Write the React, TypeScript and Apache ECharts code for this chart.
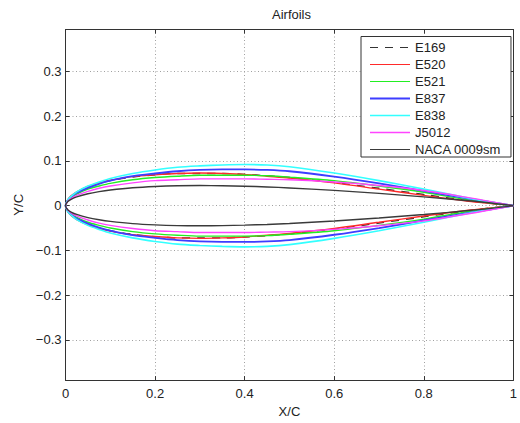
import React, { useEffect, useRef } from 'react';
import * as echarts from 'echarts';

const X_STATIONS = [0, 0.005, 0.0125, 0.025, 0.05, 0.075, 0.1, 0.15, 0.2, 0.25, 0.3, 0.35, 0.4, 0.45, 0.5, 0.6, 0.7, 0.8, 0.9, 0.95, 1];

const AIRFOIL_NAMES = ['E169', 'E520', 'E521', 'E837', 'E838', 'J5012', 'NACA 0009sm'];

const E169_UPPER = [0, 0.012, 0.021, 0.030, 0.042, 0.050, 0.056, 0.064, 0.069, 0.072, 0.072, 0.072, 0.070, 0.067, 0.063, 0.052, 0.039, 0.025, 0.011, 0.005, 0];
const E169_LOWER = [0, -0.012, -0.021, -0.030, -0.042, -0.050, -0.056, -0.064, -0.069, -0.072, -0.072, -0.072, -0.070, -0.067, -0.063, -0.052, -0.039, -0.025, -0.011, -0.005, 0];

const E520_UPPER = [0, 0.013, 0.022, 0.031, 0.043, 0.051, 0.057, 0.065, 0.069, 0.072, 0.073, 0.072, 0.070, 0.066, 0.062, 0.051, 0.037, 0.023, 0.010, 0.005, 0];
const E520_LOWER = [0, -0.013, -0.022, -0.031, -0.043, -0.051, -0.057, -0.065, -0.069, -0.072, -0.073, -0.072, -0.070, -0.066, -0.062, -0.051, -0.037, -0.023, -0.010, -0.005, 0];

const E521_UPPER = [0, 0.011, 0.018, 0.026, 0.037, 0.044, 0.050, 0.058, 0.063, 0.066, 0.068, 0.068, 0.068, 0.067, 0.064, 0.056, 0.044, 0.030, 0.013, 0.006, 0];
const E521_LOWER = [0, -0.011, -0.018, -0.026, -0.037, -0.044, -0.050, -0.058, -0.063, -0.066, -0.068, -0.068, -0.068, -0.067, -0.064, -0.056, -0.044, -0.030, -0.013, -0.006, 0];

const E837_UPPER = [0, 0.012, 0.020, 0.029, 0.040, 0.049, 0.056, 0.066, 0.072, 0.077, 0.080, 0.081, 0.081, 0.080, 0.077, 0.065, 0.050, 0.033, 0.016, 0.008, 0];
const E837_LOWER = [0, -0.012, -0.020, -0.029, -0.040, -0.049, -0.056, -0.066, -0.072, -0.077, -0.080, -0.081, -0.081, -0.080, -0.077, -0.065, -0.050, -0.033, -0.016, -0.008, 0];

const E838_UPPER = [0, 0.013, 0.021, 0.031, 0.044, 0.053, 0.061, 0.072, 0.080, 0.086, 0.089, 0.091, 0.092, 0.091, 0.087, 0.073, 0.056, 0.037, 0.017, 0.008, 0];
const E838_LOWER = [0, -0.013, -0.021, -0.031, -0.044, -0.053, -0.061, -0.072, -0.080, -0.086, -0.089, -0.091, -0.092, -0.091, -0.087, -0.073, -0.056, -0.037, -0.017, -0.008, 0];

const J5012_UPPER = [0, 0.010, 0.016, 0.023, 0.032, 0.039, 0.044, 0.051, 0.056, 0.058, 0.060, 0.060, 0.060, 0.059, 0.058, 0.053, 0.045, 0.034, 0.018, 0.009, 0];
const J5012_LOWER = [0, -0.010, -0.016, -0.023, -0.032, -0.039, -0.044, -0.051, -0.056, -0.058, -0.060, -0.060, -0.060, -0.059, -0.058, -0.053, -0.045, -0.034, -0.018, -0.009, 0];

const NACA_UPPER = [0, 0.0092, 0.0142, 0.0196, 0.0267, 0.0315, 0.0351, 0.0401, 0.0430, 0.0446, 0.0450, 0.0446, 0.0435, 0.0419, 0.0397, 0.0342, 0.0275, 0.0197, 0.0109, 0.0060, 0];
const NACA_LOWER = [0, -0.0092, -0.0142, -0.0196, -0.0267, -0.0315, -0.0351, -0.0401, -0.0430, -0.0446, -0.0450, -0.0446, -0.0435, -0.0419, -0.0397, -0.0342, -0.0275, -0.0197, -0.0109, -0.0060, 0];

const UPPERS = [E169_UPPER, E520_UPPER, E521_UPPER, E837_UPPER, E838_UPPER, J5012_UPPER, NACA_UPPER];
const LOWERS = [E169_LOWER, E520_LOWER, E521_LOWER, E837_LOWER, E838_LOWER, J5012_LOWER, NACA_LOWER];

const COLORS = ['#333333', '#ff2a2a', '#22ee22', '#3d3dff', '#33ffff', '#ff44ff', '#3a3a3a'];
const DASHES: any[] = [[8, 7], 'solid', 'solid', 'solid', 'solid', 'solid', 'solid'];
const WIDTHS = [1.3, 1.4, 1.4, 1.8, 1.6, 1.4, 1.4];
const LEGEND_WIDTHS = [1.2, 1, 1, 2, 1.6, 1.6, 1.2];

const FONT = '"Liberation Sans", Arial, Helvetica, sans-serif';

function loop(upper: number[], lower: number[]) {
  const pts: number[][] = [];
  for (let i = X_STATIONS.length - 1; i >= 0; i--) pts.push([X_STATIONS[i], upper[i]]);
  for (let i = 1; i < X_STATIONS.length; i++) pts.push([X_STATIONS[i], lower[i]]);
  return pts;
}

const fmtY = (v: number) => {
  if (Math.abs(v) < 1e-9) return '0';
  return (v < 0 ? '\u2212' : '') + Math.abs(v).toFixed(1);
};

export default function App() {
  const ref = useRef<HTMLDivElement>(null);
  useEffect(() => {
    if (!ref.current) return;
    const chart = echarts.init(ref.current, null, { renderer: 'svg' });
    const axisLineStyle = { color: '#333', width: 1 };
    const splitStyle = { show: true, lineStyle: { color: '#a0a0a0', width: 1, type: [1, 2.5] as any } };
    chart.setOption({
      animation: false,
      backgroundColor: '#ffffff',
      textStyle: { fontFamily: FONT },
      grid: { left: 65.5, right: 3, top: 29.5, bottom: 38, containLabel: false },
      graphic: [
        {
          type: 'text',
          x: 291.5,
          y: 14.5,
          style: { text: 'Airfoils', font: '13px ' + FONT, fill: '#222', textAlign: 'center', textVerticalAlign: 'middle' },
        },
      ],
      legend: {
        orient: 'vertical',
        left: 361,
        top: 36.5,
        padding: [4.5, 10, 1, 8],
        itemWidth: 40,
        itemHeight: 13,
        itemGap: 4,
        backgroundColor: '#ffffff',
        borderColor: '#333',
        borderWidth: 1,
        itemStyle: { opacity: 0 },
        textStyle: { fontSize: 13, color: '#222', fontFamily: FONT },
        data: AIRFOIL_NAMES.map((name, i) => ({
          name,
          lineStyle: { width: LEGEND_WIDTHS[i], color: COLORS[i], type: DASHES[i] },
        })),
      },
      xAxis: [
        {
          type: 'value',
          min: 0,
          max: 1,
          interval: 0.2,
          name: 'X/C',
          nameLocation: 'middle',
          nameGap: 23,
          nameTextStyle: { fontSize: 13, color: '#222', fontFamily: FONT },
          axisLine: { show: true, onZero: false, lineStyle: axisLineStyle },
          axisTick: { show: true, inside: true, length: 4, lineStyle: axisLineStyle },
          axisLabel: { fontSize: 13, color: '#222', margin: 7, fontFamily: FONT },
          splitLine: splitStyle,
        },
        {
          type: 'value',
          position: 'top',
          min: 0,
          max: 1,
          interval: 0.2,
          axisLine: { show: true, onZero: false, lineStyle: axisLineStyle },
          axisTick: { show: true, inside: true, length: 4, lineStyle: axisLineStyle },
          axisLabel: { show: false },
          splitLine: { show: false },
        },
      ],
      yAxis: [
        {
          type: 'value',
          min: -0.39,
          max: 0.394,
          splitNumber: 8,
          minInterval: 0.1,
          maxInterval: 0.1,
          name: 'Y/C',
          nameLocation: 'middle',
          nameGap: 38,
          nameTextStyle: { fontSize: 13, color: '#222', fontFamily: FONT },
          axisLine: { show: true, onZero: false, lineStyle: axisLineStyle },
          axisTick: { show: true, inside: true, length: 4, lineStyle: axisLineStyle },
          axisLabel: { fontSize: 13, color: '#222', margin: 4, showMinLabel: false, showMaxLabel: false, formatter: fmtY, fontFamily: FONT },
          splitLine: splitStyle,
        },
        {
          type: 'value',
          position: 'right',
          min: -0.39,
          max: 0.394,
          splitNumber: 8,
          minInterval: 0.1,
          maxInterval: 0.1,
          axisLine: { show: true, onZero: false, lineStyle: axisLineStyle },
          axisTick: { show: true, inside: true, length: 4, lineStyle: axisLineStyle },
          axisLabel: { show: false },
          splitLine: { show: false },
        },
      ],
      series: AIRFOIL_NAMES.map((name, i) => ({
        name,
        type: 'line',
        xAxisIndex: 0,
        yAxisIndex: 0,
        data: loop(UPPERS[i], LOWERS[i]),
        symbol: 'none',
        showSymbol: false,
        smooth: 0.3,
        lineStyle: { color: COLORS[i], width: WIDTHS[i], type: DASHES[i] },
        itemStyle: { color: COLORS[i] },
        z: 2 + i,
      })),
    });
    return () => chart.dispose();
  }, []);
  return <div ref={ref} style={{ position: 'fixed', left: 0, top: 0, width: 520, height: 423 }} />;
}
